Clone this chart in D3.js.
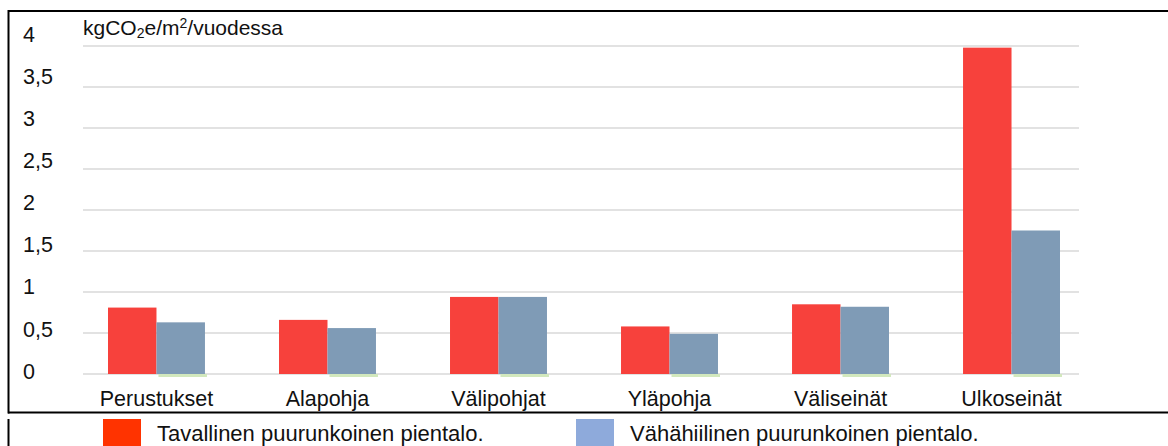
<!DOCTYPE html>
<html>
<head>
<meta charset="utf-8">
<script src="https://cdn.jsdelivr.net/npm/d3@7"></script>
<style>
  html, body { margin: 0; padding: 0; background: #fff; }
  svg text { font-family: "Liberation Sans", Arial, sans-serif; fill: #111; }
</style>
</head>
<body>
<svg id="chart" width="1168" height="446"></svg>
<script>
var categories = ['Perustukset', 'Alapohja', 'Välipohjat', 'Yläpohja', 'Väliseinät', 'Ulkoseinät'];
var tavallinen = [0.81, 0.66, 0.94, 0.58, 0.85, 3.98];
var vahahiilinen = [0.63, 0.56, 0.94, 0.49, 0.82, 1.75];
var yTicks = [0, 0.5, 1, 1.5, 2, 2.5, 3, 3.5, 4];
var yTickLabels = ['0', '0,5', '1', '1,5', '2', '2,5', '3', '3,5', '4'];
var seriesNames = ['Tavallinen puurunkoinen pientalo.', 'Vähähiilinen puurunkoinen pientalo.'];

var svg = d3.select('#chart');

var y = d3.scaleLinear().domain([0, 4]).range([374, 46]);
// tick labels sit on a slightly different spacing than the gridlines
var yLabel = d3.scaleLinear().domain([0, 4]).range([371, 34]);

var x = d3.scaleBand()
  .domain(categories)
  .range([108, 1060])
  .paddingInner(0.433)
  .paddingOuter(0);

var xSub = d3.scaleBand()
  .domain(['t', 'v'])
  .range([0, x.bandwidth()]);

// gridlines
svg.append('g')
  .selectAll('line')
  .data(yTicks)
  .enter()
  .append('line')
  .attr('x1', 83)
  .attr('x2', 1079)
  .attr('y1', function (d) { return y(d); })
  .attr('y2', function (d) { return y(d); })
  .attr('stroke', '#e2e2e2')
  .attr('stroke-width', 2);

// y tick labels
svg.append('g')
  .selectAll('text')
  .data(yTicks)
  .enter()
  .append('text')
  .attr('x', 23)
  .attr('y', function (d) { return yLabel(d); })
  .attr('dy', '0.36em')
  .attr('font-size', '21.5px')
  .text(function (d, i) { return yTickLabels[i]; });

// unit
var unit = svg.append('text')
  .attr('x', 83)
  .attr('y', 35)
  .attr('font-size', '21px');
unit.append('tspan').text('kgCO');
unit.append('tspan').attr('font-size', '14px').attr('dy', 3).text('2');
unit.append('tspan').attr('dy', -3).text('e/m');
unit.append('tspan').attr('font-size', '14px').attr('dy', -7).text('2');
unit.append('tspan').attr('dy', 7).text('/vuodessa');

// bars
var groups = svg.append('g')
  .selectAll('g')
  .data(categories)
  .enter()
  .append('g')
  .attr('transform', function (d) { return 'translate(' + x(d) + ',0)'; });

// faint green edge under the blue bars
groups.append('rect')
  .attr('x', xSub('v') + 2)
  .attr('y', y(0))
  .attr('width', xSub.bandwidth())
  .attr('height', 3)
  .attr('fill', '#d2e8bd');

groups.append('rect')
  .attr('x', xSub('t'))
  .attr('y', function (d, i) { return y(tavallinen[i]); })
  .attr('width', xSub.bandwidth())
  .attr('height', function (d, i) { return y(0) - y(tavallinen[i]); })
  .attr('fill', '#f7413c');

groups.append('rect')
  .attr('x', xSub('v'))
  .attr('y', function (d, i) { return y(vahahiilinen[i]); })
  .attr('width', xSub.bandwidth())
  .attr('height', function (d, i) { return y(0) - y(vahahiilinen[i]); })
  .attr('fill', '#7f9bb6');

// category labels
groups.append('text')
  .attr('x', x.bandwidth() / 2)
  .attr('y', 406)
  .attr('text-anchor', 'middle')
  .attr('font-size', '21.5px')
  .text(function (d) { return d; });

// frame
svg.append('line').attr('x1', 8).attr('x2', 1168).attr('y1', 11).attr('y2', 11)
  .attr('stroke', '#000').attr('stroke-width', 2);
svg.append('line').attr('x1', 8).attr('x2', 1168).attr('y1', 412.5).attr('y2', 412.5)
  .attr('stroke', '#000').attr('stroke-width', 2);
svg.append('line').attr('x1', 8.5).attr('x2', 8.5).attr('y1', 10).attr('y2', 413.5)
  .attr('stroke', '#000').attr('stroke-width', 2);
svg.append('line').attr('x1', 8.5).attr('x2', 8.5).attr('y1', 419).attr('y2', 446)
  .attr('stroke', '#000').attr('stroke-width', 2);

// legend
var legendX = [103, 576];
var legendColors = ['#ff3300', '#8eaadb'];
var legend = svg.append('g')
  .selectAll('g')
  .data(seriesNames)
  .enter()
  .append('g')
  .attr('transform', function (d, i) { return 'translate(' + legendX[i] + ',419)'; });

legend.append('rect')
  .attr('width', 38)
  .attr('height', 30)
  .attr('fill', function (d, i) { return legendColors[i]; });

legend.append('text')
  .attr('x', 54)
  .attr('y', 21.5)
  .attr('font-size', '22px')
  .text(function (d) { return d; });
</script>
</body>
</html>
